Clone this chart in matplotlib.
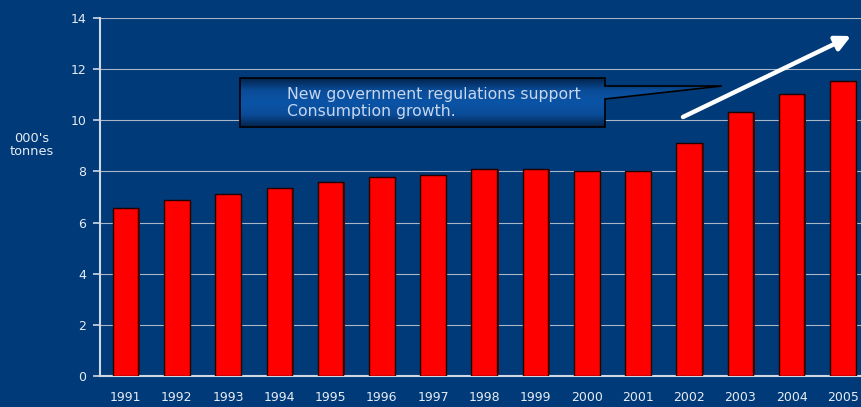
import numpy as np
import matplotlib.pyplot as plt
from matplotlib.patches import Polygon
from matplotlib.colors import LinearSegmentedColormap

years = ["1991", "1992", "1993", "1994", "1995", "1996", "1997", "1998",
         "1999", "2000", "2001", "2002", "2003", "2004", "2005"]
consumption = [6.57, 6.88, 7.12, 7.35, 7.59, 7.78, 7.86, 8.10,
               8.10, 8.02, 8.02, 9.11, 10.32, 11.03, 11.54]
yticks = [0, 2, 4, 6, 8, 10, 12, 14]
note = "New government regulations support\nConsumption growth."

bg = "#003A78"
fg = "#E6ECF4"
W, H = 862, 407

fig = plt.figure(figsize=(W / 100, H / 100), dpi=100, facecolor=bg)
# axis runs past the right edge of the picture, as in the reference
ax = fig.add_axes([100 / W, 1 - 376 / H, 768.5 / W, 358 / H])
ax.set_facecolor(bg)

x = np.arange(len(years))
# shadow on the right side of each bar
ax.bar(x + 0.03, consumption, width=0.5, color="#600000", zorder=2)
ax.bar(x, consumption, width=0.5, color="#FF0000", edgecolor="#200000",
       linewidth=1.0, zorder=3)

ax.set_xlim(-0.5, len(years) - 0.5)
ax.set_ylim(0, 14)
ax.set_yticks(yticks)
ax.set_xticks(x)
ax.set_xticklabels(years)
ax.yaxis.grid(True, color="#A8B6C8", linewidth=0.8, zorder=0)
ax.set_axisbelow(True)
for s in ["top", "right"]:
    ax.spines[s].set_visible(False)
for s in ["left", "bottom"]:
    ax.spines[s].set_color("#D0D8E4")
    ax.spines[s].set_linewidth(1.5)
ax.tick_params(axis="y", colors="#D0D8E4", labelcolor=fg, labelsize=9,
               length=5, width=1.2, pad=5)
ax.tick_params(axis="x", length=0, labelcolor=fg, labelsize=9, pad=11)

fig.text(32 / W, 1 - 145 / H, "000's\ntonnes", color=fg, fontsize=9.3,
         ha="center", va="center", linespacing=1.05)

# overlay in pixel coordinates for the callout and arrow
ov = fig.add_axes([0, 0, 1, 1])
ov.set_xlim(0, W)
ov.set_ylim(H, 0)
ov.axis("off")

pts = [(240, 78), (605, 78), (605, 86), (722, 86), (605, 99),
       (605, 127), (240, 127)]
poly = Polygon(pts, closed=True, facecolor="none", edgecolor="black",
               linewidth=1.2, zorder=5)
ov.add_patch(poly)
cmap = LinearSegmentedColormap.from_list(
    "callout", ["#03234C", "#0A4C98", "#0B54A6", "#0A4C98", "#03234C"])
grad = np.linspace(0, 1, 100).reshape(-1, 1)
img = ov.imshow(grad, cmap=cmap, aspect="auto", extent=(240, 722, 127, 78),
                zorder=4)
img.set_clip_path(Polygon(pts, closed=True, transform=ov.transData))
ov.set_xlim(0, W)
ov.set_ylim(H, 0)
ov.text(287, 103, note, color="#C6D6EE", fontsize=11.3, va="center",
        ha="left", linespacing=1.2, zorder=6)

ov.annotate("", xy=(851, 36), xytext=(683, 117),
            arrowprops=dict(arrowstyle="-|>,head_length=0.9,head_width=0.45",
                            color="white", lw=3.2, shrinkA=0, shrinkB=0),
            zorder=6)

fig.savefig("out.png", dpi=100, facecolor=bg)
